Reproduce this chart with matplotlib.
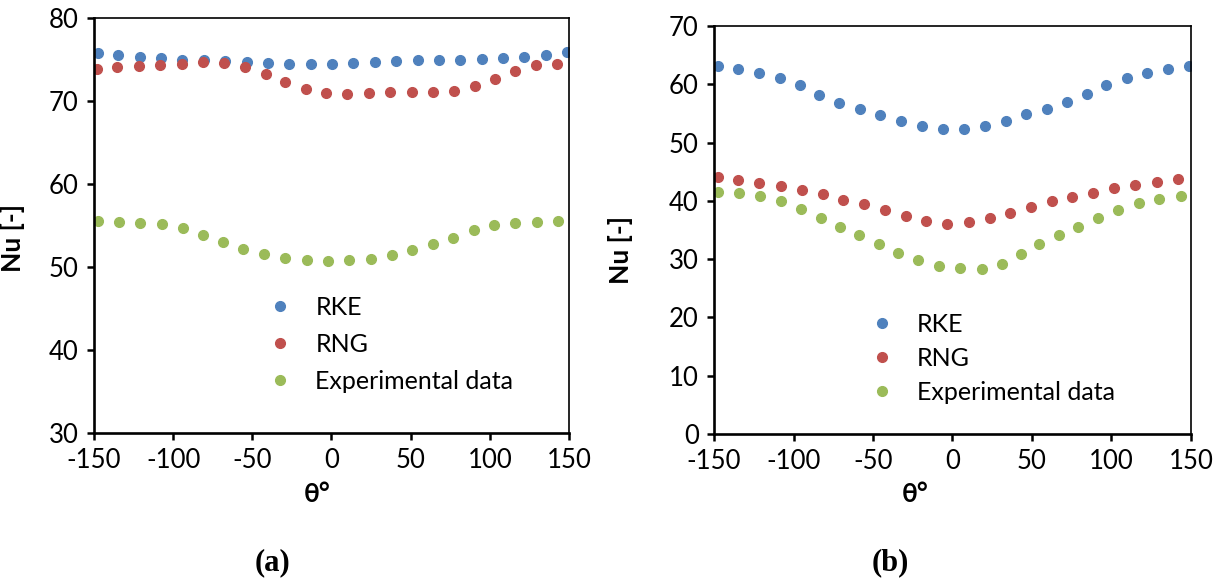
import matplotlib.pyplot as plt

plt.rcParams['font.family'] = ['Lato', 'DejaVu Sans']
plt.rcParams['axes.unicode_minus'] = False

# panel (a)
a_rke_x = [-147.5, -134.8, -120.9, -107.6, -94.4, -80.5, -67.2, -53.3, -40.0, -26.7, -12.8, 0.4,
           13.7, 27.6, 40.9, 54.8, 68.1, 81.4, 95.3, 108.5, 121.8, 135.7, 149.0]
a_rke_y = [75.8, 75.5, 75.3, 75.2, 75.0, 74.9, 74.8, 74.7, 74.6, 74.5, 74.4, 74.5,
           74.6, 74.7, 74.8, 74.9, 75.0, 75.0, 75.1, 75.2, 75.3, 75.5, 75.9]
a_rng_x = [-148.1, -135.5, -121.6, -108.3, -94.4, -81.1, -67.8, -54.6, -41.3, -29.3, -16.0, -3.4,
           9.9, 23.8, 37.1, 51.0, 64.3, 77.6, 90.8, 103.5, 116.1, 129.4, 142.7]
a_rng_y = [73.9, 74.1, 74.25, 74.3, 74.4, 74.7, 74.6, 74.1, 73.3, 72.25, 71.45, 70.95,
           70.85, 71.0, 71.1, 71.1, 71.05, 71.25, 71.85, 72.6, 73.6, 74.3, 74.5]
a_exp_x = [-147.5, -134.2, -120.9, -107.0, -93.7, -81.1, -68.5, -55.8, -42.5, -29.3, -15.3, -2.1,
           11.2, 25.1, 38.4, 51.0, 64.3, 77.0, 90.2, 102.9, 116.1, 130.0, 143.3]
a_exp_y = [55.6, 55.45, 55.3, 55.15, 54.65, 53.85, 53.0, 52.2, 51.6, 51.05, 50.8, 50.7,
           50.8, 50.95, 51.4, 52.0, 52.75, 53.55, 54.4, 55.05, 55.25, 55.4, 55.6]

# panel (b)
b_rke_x = [-147.7, -134.7, -121.7, -108.5, -95.9, -83.8, -71.2, -58.2, -45.6, -32.6, -19.4, -6.2,
           7.2, 20.4, 33.5, 46.2, 59.2, 72.2, 84.4, 96.5, 109.6, 122.5, 135.7, 148.7]
b_rke_y = [63.1, 62.6, 62.0, 61.0, 59.8, 58.2, 56.8, 55.8, 54.8, 53.7, 52.8, 52.25,
           52.3, 52.9, 53.7, 54.9, 55.8, 56.9, 58.3, 59.8, 61.0, 62.0, 62.6, 63.1]
b_rng_x = [-147.7, -134.7, -121.5, -108.1, -94.8, -81.6, -68.6, -55.6, -42.5, -29.4, -16.6, -3.2,
           10.2, 23.4, 36.2, 49.2, 62.4, 75.4, 88.6, 101.8, 115.0, 128.5, 141.6]
b_rng_y = [44.1, 43.5, 43.0, 42.5, 41.8, 41.1, 40.2, 39.4, 38.5, 37.4, 36.6, 36.1,
           36.3, 37.0, 38.0, 39.0, 39.9, 40.6, 41.4, 42.2, 42.8, 43.25, 43.8]
b_exp_x = [-147.3, -134.3, -121.1, -108.1, -95.5, -82.9, -70.8, -58.6, -46.2, -34.1, -21.5, -8.5,
           4.7, 18.4, 31.1, 42.9, 54.6, 67.0, 79.2, 91.7, 104.3, 117.3, 130.1, 143.5]
b_exp_y = [41.5, 41.4, 40.9, 39.9, 38.6, 37.1, 35.6, 34.1, 32.6, 31.0, 29.8, 28.85,
           28.4, 28.3, 29.15, 30.9, 32.6, 34.1, 35.6, 37.1, 38.45, 39.55, 40.35, 40.85]

labels = ['RKE', 'RNG', 'Experimental data']
colors = ['#4F81BD', '#C0504D', '#9BBB59']

fig = plt.figure(figsize=(12.22, 5.81), dpi=100)
ax1 = fig.add_axes([0.0769, 0.2547, 0.3887, 0.7143])
ax2 = fig.add_axes([0.5843, 0.2530, 0.3903, 0.7022])

panels = [
    (ax1, [(a_rke_x, a_rke_y), (a_rng_x, a_rng_y), (a_exp_x, a_exp_y)], (30, 80), range(30, 81, 10)),
    (ax2, [(b_rke_x, b_rke_y), (b_rng_x, b_rng_y), (b_exp_x, b_exp_y)], (0, 70), range(0, 71, 10)),
]

for ax, series, ylim, yticks in panels:
    for (xs, ys), lab, c in zip(series, labels, colors):
        ax.plot(xs, ys, 'o', color=c, ms=7, label=lab)
    ax.set_xlim(-150, 150)
    ax.set_ylim(*ylim)
    ax.set_xticks(range(-150, 151, 50))
    ax.set_yticks(list(yticks))
    ax.tick_params(direction='out', length=5, width=1.8, labelsize=18.5, pad=6)
    for s in ['left', 'bottom']:
        ax.spines[s].set_linewidth(1.9)
    for s in ['top', 'right']:
        ax.spines[s].set_linewidth(1.2)
    ax.set_xlabel('θ°', fontsize=19, fontweight='bold')
    ax.set_ylabel('Nu [-]', fontsize=19, fontweight='bold')

ax1.xaxis.set_label_coords(0.469, -0.118)
ax2.xaxis.set_label_coords(0.421, -0.118)
ax1.yaxis.set_label_coords(-0.145, 0.47)
ax2.yaxis.set_label_coords(-0.17, 0.45)

ax1.legend(loc='upper left', bbox_to_anchor=(0.34, 0.36), frameon=False, fontsize=18,
           handletextpad=0.9, labelspacing=0.56, borderpad=0, handlelength=1.0)
ax2.legend(loc='upper left', bbox_to_anchor=(0.30, 0.327), frameon=False, fontsize=18,
           handletextpad=0.9, labelspacing=0.44, borderpad=0, handlelength=1.0)

fig.text(273 / 1222, 1 - 563 / 581, '(a)', family='Liberation Serif', fontweight='bold',
         fontsize=22, ha='center', va='center')
fig.text(890 / 1222, 1 - 563 / 581, '(b)', family='Liberation Serif', fontweight='bold',
         fontsize=22, ha='center', va='center')

fig.savefig('out.png', dpi=100)
